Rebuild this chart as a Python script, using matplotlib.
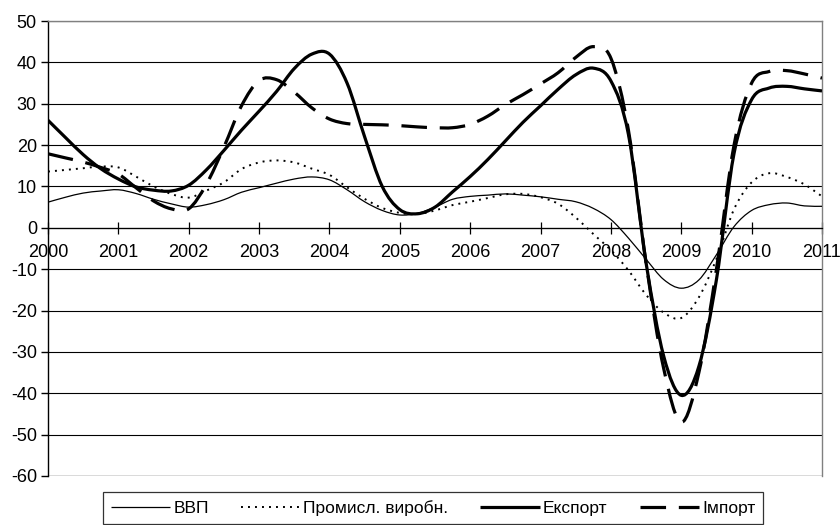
import numpy as np
import matplotlib
matplotlib.use("Agg")
from matplotlib import pyplot as plt
from matplotlib.path import Path
from matplotlib.patches import PathPatch
from matplotlib.lines import Line2D

plt.rcParams["font.family"] = ["Liberation Sans", "DejaVu Sans"]
plt.rcParams["axes.unicode_minus"] = False

# quarterly points, 2000.00 ... 2011.00
years = np.arange(2000, 2011.001, 0.25)

gdp = [6.2, 7.4, 8.4, 8.9, 9.2, 8.3, 6.9, 5.8, 5.0, 5.6, 6.8, 8.6,
       9.7, 10.8, 11.8, 12.3, 11.6, 9.2, 6.3, 4.2, 3.1, 3.5, 5.0, 6.9,
       7.6, 7.9, 8.2, 7.9, 7.5, 6.9, 6.3, 4.7, 2.0, -2.5, -7.6, -12.5,
       -14.6, -12.6, -6.5, 0.3, 4.2, 5.6, 6.0, 5.3, 5.2]

industry = [13.6, 14.0, 14.4, 14.8, 14.6, 12.4, 10.0, 8.2, 7.3, 9.0, 11.0, 14.2,
            15.8, 16.3, 15.8, 14.3, 12.8, 9.8, 7.0, 4.8, 3.6, 3.3, 4.2, 5.5,
            6.3, 7.2, 8.1, 8.2, 7.4, 5.8, 2.5, -1.5, -5.4, -10.3, -16.2, -20.5,
            -21.8, -16.8, -7.5, 4.5, 11.0, 13.2, 12.3, 10.5, 7.6]

export = [26.0, 21.8, 17.7, 14.3, 11.8, 9.9, 9.1, 8.9, 10.3, 14.0, 18.7, 23.6,
          28.2, 33.0, 38.5, 42.0, 42.0, 35.0, 22.0, 10.0, 4.4, 3.4, 5.0, 8.7,
          12.4, 16.5, 21.0, 25.5, 29.5, 33.5, 37.0, 38.6, 35.5, 22.5, -8.5, -31.0,
          -40.5, -33.5, -12.5, 18.0, 31.0, 33.8, 34.2, 33.6, 33.1]

imports = [17.9, 16.9, 15.9, 14.6, 13.0, 9.7, 6.5, 4.6, 4.6, 10.5, 19.5, 29.5,
           35.6, 35.8, 32.8, 29.0, 26.3, 25.2, 25.0, 24.9, 24.7, 24.4, 24.2, 24.2,
           25.0, 27.0, 29.8, 32.2, 34.8, 37.5, 41.2, 43.8, 41.0, 23.5, -8.5, -34.0,
           -47.0, -35.0, -10.0, 20.0, 35.0, 37.8, 38.0, 37.2, 36.2]

labels = ["ВВП", "Промисл. виробн.", "Експорт", "Імпорт"]


def smooth_path(x, y):
    # Excel-like smoothed line: cubic Bezier segments through the data points
    p = np.column_stack([x, y])
    ext = np.vstack([p[0], p, p[-1]])
    verts = [p[0]]
    codes = [Path.MOVETO]
    for i in range(len(p) - 1):
        p0, p1, p2, p3 = ext[i], ext[i + 1], ext[i + 2], ext[i + 3]
        verts += [p1 + (p2 - p0) / 6, p2 - (p3 - p1) / 6, p2]
        codes += [Path.CURVE4] * 3
    return Path(verts, codes)


styles = [
    dict(lw=0.9, ls="-"),
    dict(lw=1.4, ls=(0, (1, 2.6))),
    dict(lw=2.3, ls="-"),
    dict(lw=2.3, ls=(0, (8, 4))),
]

fig = plt.figure(figsize=(8.4, 5.25), dpi=100)
ax = fig.add_axes([48 / 840, 49 / 525, 774 / 840, 455 / 525])

for series, st in zip([gdp, industry, export, imports], styles):
    patch = PathPatch(smooth_path(years, series), fill=False, edgecolor="black",
                      linewidth=st["lw"], linestyle=st["ls"], capstyle="butt",
                      joinstyle="round", zorder=3)
    ax.add_patch(patch)

ax.set_xlim(2000, 2011)
ax.set_ylim(-60, 50)
ax.set_yticks(np.arange(-60, 51, 10))
ax.set_xticks(np.arange(2000, 2012, 1))
ax.yaxis.grid(True, color="black", lw=0.8)
ax.set_axisbelow(True)

ax.spines["bottom"].set_position(("data", 0))
ax.spines["bottom"].set_linewidth(0.9)
ax.spines["left"].set_linewidth(1.0)
for side in ["top", "right"]:
    ax.spines[side].set_color("#808080")
    ax.spines[side].set_linewidth(1.0)

ax.tick_params(axis="y", direction="out", length=5, width=1, labelsize=13, pad=3)
ax.tick_params(axis="x", direction="inout", length=9, width=0.9, labelsize=13, pad=7)

# bottom border of plot area at -60
ax.axhline(-60, color="#808080", lw=1.0, zorder=1)

handles = [Line2D([], [], color="black", lw=st["lw"], ls=st["ls"],
                  solid_capstyle="butt", dash_capstyle="butt") for st in styles]
leg = fig.legend(handles, labels, loc="center", ncol=4,
                 bbox_to_anchor=(433 / 840, 1 - 508 / 525),
                 frameon=True, fancybox=False, edgecolor="black",
                 fontsize=12.5, handlelength=3.4, handletextpad=0.2,
                 columnspacing=1.85, borderpad=0.45)
leg.get_frame().set_linewidth(0.9)

fig.savefig("out.png", dpi=100)
